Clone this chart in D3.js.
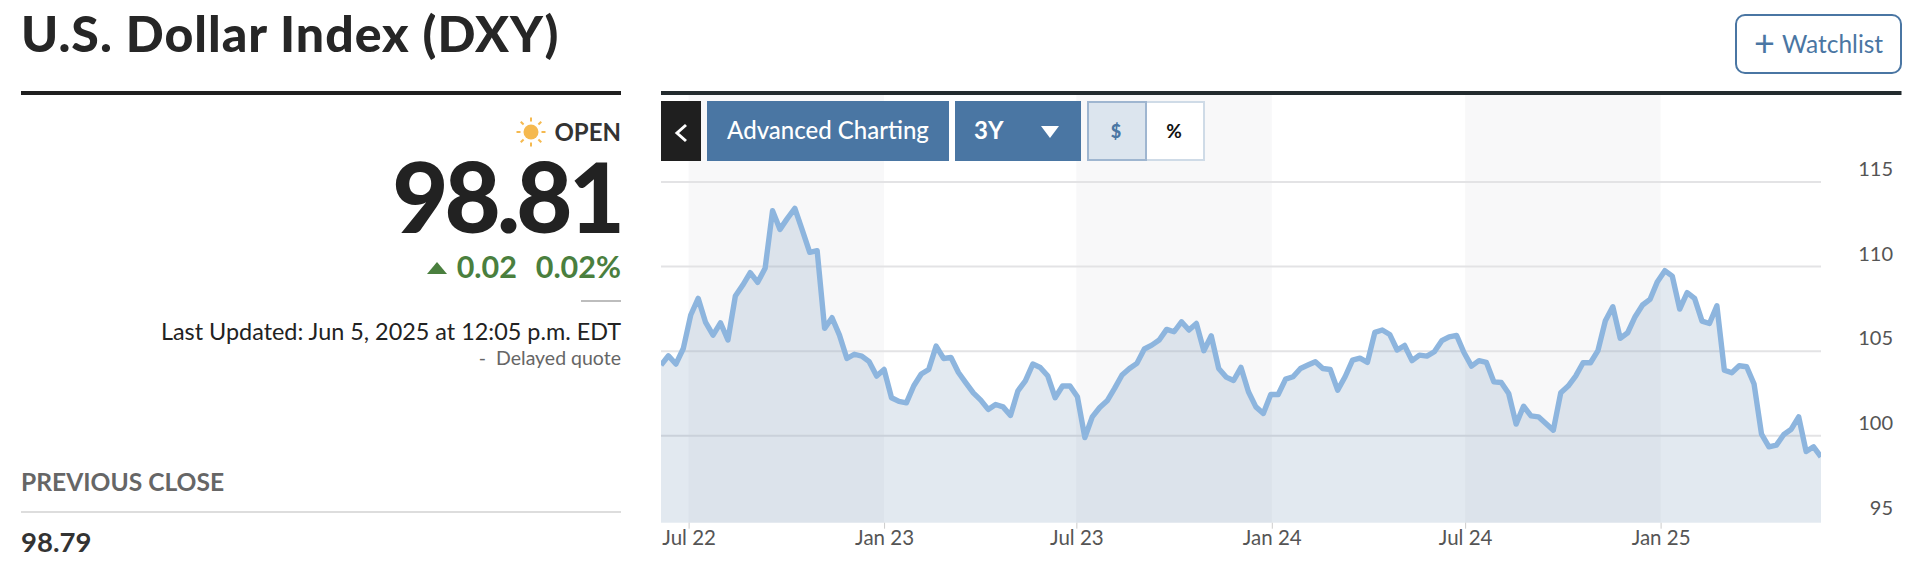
<!DOCTYPE html>
<html><head><meta charset="utf-8">
<style>html,body{margin:0;padding:0;background:#fff;overflow:hidden}svg{display:block}text{font-family:Lato,sans-serif}</style>
<script src="https://cdn.jsdelivr.net/npm/d3@7"></script></head>
<body><svg id="c" width="1924" height="571"></svg>
<script>
const startDate = new Date(2022,5,5);
const closes = [104.18,104.73,104.24,105.16,107.14,108.12,106.70,105.95,106.68,105.66,108.26,108.91,109.64,109.07,109.90,113.30,112.20,112.85,113.44,112.16,110.84,110.94,106.35,106.98,105.95,104.57,104.82,104.71,104.38,103.53,103.92,102.25,102.03,101.95,102.96,103.65,103.92,105.30,104.57,104.63,103.74,103.13,102.54,102.11,101.56,101.85,101.71,101.20,102.66,103.25,104.24,104.04,103.55,102.25,102.94,102.94,102.31,99.90,101.12,101.67,102.07,102.80,103.59,103.98,104.28,105.13,105.36,105.66,106.29,106.15,106.74,106.25,106.64,105.03,105.91,103.98,103.47,103.27,104.04,102.60,101.71,101.32,102.44,102.44,103.35,103.49,103.98,104.18,104.38,103.98,103.92,102.70,103.49,104.47,104.59,104.34,106.11,106.25,105.99,105.07,105.34,104.44,104.77,104.71,104.97,105.62,105.85,105.93,104.91,104.12,104.44,104.34,103.19,103.15,102.50,100.69,101.75,101.18,101.12,100.73,100.33,102.54,102.94,103.53,104.32,104.32,105.03,106.80,107.63,105.76,106.09,107.04,107.73,108.06,109.11,109.76,109.44,107.49,108.46,108.12,106.78,106.64,107.69,103.88,103.73,104.14,104.08,103.06,100.10,99.35,99.45,100.08,100.39,101.12,99.07,99.35,98.76];
const yTicks = [95,100,105,110,115];
const xTicks = [[2022,6,"Jul 22"],[2023,0,"Jan 23"],[2023,6,"Jul 23"],[2024,0,"Jan 24"],[2024,6,"Jul 24"],[2025,0,"Jan 25"]];
const bandPairs = [[0,1],[2,3],[4,5]];

const L=661,R=1821,T=95,B=522.7;
const svg=d3.select("#c");
const dates=closes.map((_,i)=>d3.timeDay.offset(startDate,i*7));
const tickDates=xTicks.map(d=>new Date(d[0],d[1],1));
const x=d3.scaleTime().domain([dates[0],dates[dates.length-1]]).range([L,R]);
const y=d3.scaleLinear().domain([95,115]).range([520.4,182]);
const pts=closes.map((v,i)=>({d:dates[i],v}));

// bands
svg.append("g").selectAll("rect").data(bandPairs).join("rect")
 .attr("x",p=>x(tickDates[p[0]])).attr("width",p=>x(tickDates[p[1]])-x(tickDates[p[0]]))
 .attr("y",T).attr("height",B-T).attr("fill","#f8f8f9");
// grid
svg.append("g").selectAll("line").data(yTicks.filter(v=>v>95)).join("line")
 .attr("x1",L).attr("x2",R).attr("y1",v=>y(v)).attr("y2",v=>y(v))
 .attr("stroke","#e3e3e5").attr("stroke-width",2);
// area + line
svg.append("path").datum(pts).attr("fill","#4a76a3").attr("fill-opacity",0.16)
 .attr("d",d3.area().x(d=>x(d.d)).y0(B).y1(d=>y(d.v)));
svg.append("path").datum(pts).attr("fill","none").attr("stroke","#8db5de").attr("stroke-width",5.4)
 .attr("stroke-linejoin","round").attr("d",d3.line().x(d=>x(d.d)).y(d=>y(d.v)));
// clip line overhang at edges
svg.append("rect").attr("x",L-5).attr("y",T).attr("width",5).attr("height",B-T).attr("fill","#fff");
svg.append("rect").attr("x",R).attr("y",T).attr("width",6).attr("height",B-T).attr("fill","#fff");

// axes
const ax=svg.append("g").attr("transform",`translate(0,${B})`)
 .call(d3.axisBottom(x).tickValues(tickDates).tickFormat((d,i)=>xTicks[i][2]).tickSize(6).tickPadding(2));
ax.select(".domain").remove();
ax.selectAll("line").attr("stroke","#ccc").attr("stroke-width",1);
ax.selectAll("text").attr("font-size",20.5).attr("fill","#555").attr("font-family","Lato");
const ay=svg.append("g").attr("transform",`translate(1893,0)`)
 .call(d3.axisLeft(y).tickValues(yTicks).tickFormat(d3.format("d")).tickSize(0).tickPadding(0));
ay.select(".domain").remove();
ay.selectAll("text").attr("font-size",20).attr("fill","#555").attr("font-family","Open Sans").attr("dy","-0.32em");

const text=(s,px,py,size,fill,o={})=>svg.append("text").text(s).attr("x",px).attr("y",py)
 .attr("font-size",size).attr("fill",fill).attr("font-weight",o.w||400)
 .attr("text-anchor",o.a||"start").attr("dominant-baseline","alphabetic")
 .attr("letter-spacing",o.ls||null);
const rect=(a,b,w,h,f)=>svg.append("rect").attr("x",a).attr("y",b).attr("width",w).attr("height",h).attr("fill",f);

// header
text("U.S. Dollar Index (DXY)",21,52,50,"#262626",{w:900,ls:1});
rect(21,91,600,4,"#1f1f1f");
rect(661,91,1240.5,4,"#232b2e");

// watchlist
svg.append("rect").attr("x",1736).attr("y",15).attr("width",165).attr("height",58).attr("rx",9)
 .attr("fill","#fff").attr("stroke","#4a76a3").attr("stroke-width",2);
text("+",1764.5,56,36,"#4a76a3",{a:"middle"});
text("Watchlist",1782,53,24.5,"#4a76a3");

// left panel
const sx=531,sy=132;
svg.append("circle").attr("cx",sx).attr("cy",sy).attr("r",7.5).attr("fill","#f5b94f");
svg.append("g").selectAll("line").data([0,45,90,135,180,225,270,315]).join("line")
 .attr("x1",a=>sx+10.5*Math.cos(a*Math.PI/180)).attr("y1",a=>sy+10.5*Math.sin(a*Math.PI/180))
 .attr("x2",a=>sx+14.5*Math.cos(a*Math.PI/180)).attr("y2",a=>sy+14.5*Math.sin(a*Math.PI/180))
 .attr("stroke","#f5b94f").attr("stroke-width",2);
text("OPEN",621,140.5,24,"#333",{w:700,a:"end"});
text("98.81",621.3,233,97,"#222",{w:900,a:"end",ls:-3.8});
svg.append("path").attr("d","M427 274L437 262L447 274Z").attr("fill","#4a7f3e");
text("0.02",517,277.5,30.5,"#4a7f3e",{w:700,a:"end"});
text("0.02%",621,277.5,30.5,"#4a7f3e",{w:700,a:"end"});
rect(581,300,40,2,"#bdbdbd");
text("Last Updated: Jun 5, 2025 at 12:05 p.m. EDT",621,340,23.4,"#222",{a:"end"});
text("-\u00a0\u00a0Delayed quote",621,365,19.5,"#666",{a:"end"});
text("PREVIOUS CLOSE",21,491,24.6,"#666",{w:700});
rect(21,511,600,2,"#ddd");
text("98.79",21,552,27.5,"#333",{w:700});

// toolbar
rect(661,101,40,60,"#1f1f1f");
svg.append("path").attr("d","M686 125L677 133L686 141").attr("fill","none").attr("stroke","#fff").attr("stroke-width",3);
rect(707,101,242,60,"#4a76a3");
text("Advanced Charting",828,139,24,"#fff",{a:"middle",w:500});
rect(955,101,126,60,"#4a76a3");
text("3Y",974,139,24,"#fff",{w:700});
svg.append("path").attr("d","M1041 126H1059L1050 138Z").attr("fill","#fff");
rect(1087,101,118,60,"#fff");
svg.append("rect").attr("x",1146).attr("y",102).attr("width",58).attr("height",58).attr("fill","#fff").attr("stroke","#cfdbe7").attr("stroke-width",2);
svg.append("rect").attr("x",1088).attr("y",102).attr("width",58).attr("height",58).attr("fill","#dce5ee").attr("stroke","#9fb6d0").attr("stroke-width",2);
text("$",1116,137.5,18,"#4a76a3",{a:"middle",w:900});
text("%",1174,137.5,19,"#111",{a:"middle",w:700});
</script></body></html>
